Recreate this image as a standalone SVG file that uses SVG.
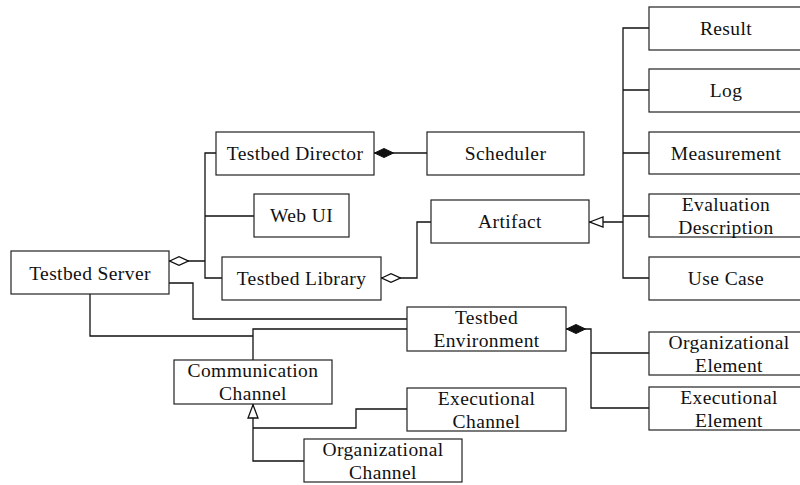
<svg xmlns="http://www.w3.org/2000/svg" width="800" height="485" viewBox="0 0 800 485">
<defs>
<style>
.box{fill:#fff;stroke:#222;stroke-width:1.2}
.t{font-family:'Liberation Serif','DejaVu Serif',serif;font-size:19.5px;letter-spacing:0.4px;fill:#111;text-anchor:middle}
.c{fill:none;stroke:#111;stroke-width:1.3}
</style>
<marker id="dh" viewBox="0 0 20 10" refX="0" refY="5" markerUnits="userSpaceOnUse" markerWidth="20" markerHeight="10" orient="auto">
<path d="M0.7,5 L10,0.7 L19.3,5 L10,9.3 Z" fill="#fff" stroke="#111" stroke-width="1.3"/>
</marker>
<marker id="df" viewBox="0 0 20 10" refX="0" refY="5" markerUnits="userSpaceOnUse" markerWidth="20" markerHeight="10" orient="auto">
<path d="M0.5,5 L10,0.5 L19.5,5 L10,9.5 Z" fill="#111" stroke="#111" stroke-width="1"/>
</marker>
<marker id="tri" viewBox="0 0 15 12" refX="0" refY="6" markerUnits="userSpaceOnUse" markerWidth="15" markerHeight="12" orient="auto">
<path d="M0.8,6 L14,1 L14,11 Z" fill="#fff" stroke="#111" stroke-width="1.3"/>
</marker>
</defs>
<g id="connectors">
<path class="c" d="M216,153 H205 V278 H222 M205,216 H254"/>
<path class="c" d="M169,261 H205" marker-start="url(#dh)"/>
<path class="c" d="M374,153 H427" marker-start="url(#df)"/>
<path class="c" d="M381,278 H417 V222 H431" marker-start="url(#dh)"/>
<path class="c" d="M649,28 H623 V278 H649 M623,90 H649 M623,153 H649 M623,216 H649"/>
<path class="c" d="M589,222 H623" marker-start="url(#tri)"/>
<path class="c" d="M169,283 H193 V319 H407"/>
<path class="c" d="M90,294 V336 H253"/>
<path class="c" d="M253,360 V329 H407"/>
<path class="c" d="M566,329 H591 V408 H649 M591,353 H649" marker-start="url(#df)"/>
<path class="c" d="M253,417 V461 H304 M253,428 H356 V409 H407"/>
<path class="c" d="M253,404 V418" marker-start="url(#tri)"/>
</g>
<g font-family="'Liberation Serif', serif">
<g id="testbed-server"><rect class="box" x="11" y="251" width="158" height="43"/><text class="t" x="90" y="280">Testbed Server</text></g>
<g id="testbed-director"><rect class="box" x="216" y="132" width="158" height="43"/><text class="t" x="295" y="160">Testbed Director</text></g>
<g id="web-ui"><rect class="box" x="254" y="194" width="95" height="43"/><text class="t" x="301.5" y="222">Web UI</text></g>
<g id="testbed-library"><rect class="box" x="222" y="257" width="159" height="43"/><text class="t" x="301.5" y="285">Testbed Library</text></g>
<g id="scheduler"><rect class="box" x="427" y="132" width="157" height="43"/><text class="t" x="505.5" y="160">Scheduler</text></g>
<g id="artifact"><rect class="box" x="431" y="200" width="158" height="43"/><text class="t" x="510" y="228">Artifact</text></g>
<g id="result"><rect class="box" x="649" y="7" width="155" height="43"/><text class="t" x="726" y="35">Result</text></g>
<g id="log"><rect class="box" x="649" y="69" width="155" height="43"/><text class="t" x="726" y="97">Log</text></g>
<g id="measurement"><rect class="box" x="649" y="132" width="155" height="42"/><text class="t" x="726" y="160">Measurement</text></g>
<g id="evaluation-description"><rect class="box" x="649" y="194" width="155" height="43"/><text class="t" x="726" y="211">Evaluation</text><text class="t" x="726" y="234">Description</text></g>
<g id="use-case"><rect class="box" x="649" y="257" width="155" height="43"/><text class="t" x="726" y="285">Use Case</text></g>
<g id="testbed-environment"><rect class="box" x="407" y="307" width="159" height="44"/><text class="t" x="486.5" y="324">Testbed</text><text class="t" x="486.5" y="347">Environment</text></g>
<g id="organizational-element"><rect class="box" x="649" y="332" width="155" height="43"/><text class="t" x="729" y="349">Organizational</text><text class="t" x="729" y="372">Element</text></g>
<g id="executional-element"><rect class="box" x="649" y="387" width="155" height="43"/><text class="t" x="729" y="404">Executional</text><text class="t" x="729" y="427">Element</text></g>
<g id="communication-channel"><rect class="box" x="174" y="360" width="158" height="44"/><text class="t" x="253" y="377">Communication</text><text class="t" x="253" y="400">Channel</text></g>
<g id="executional-channel"><rect class="box" x="407" y="388" width="159" height="43"/><text class="t" x="486.5" y="405">Executional</text><text class="t" x="486.5" y="428">Channel</text></g>
<g id="organizational-channel"><rect class="box" x="304" y="439" width="158" height="43"/><text class="t" x="383" y="456">Organizational</text><text class="t" x="383" y="479">Channel</text></g>
</g>
</svg>
